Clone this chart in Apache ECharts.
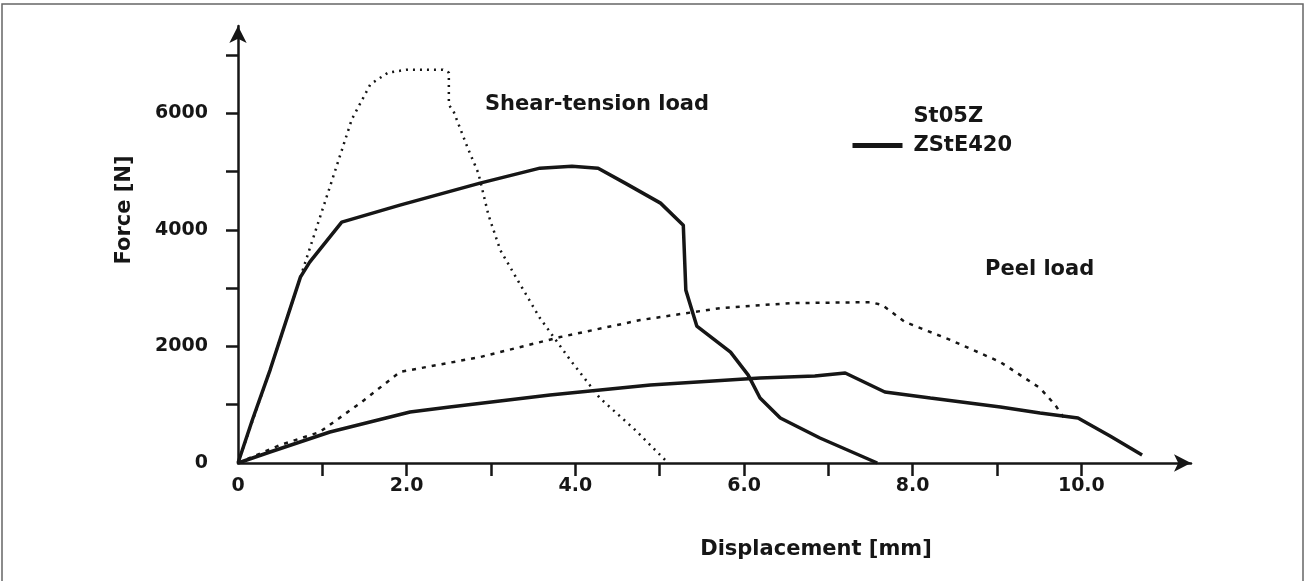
<!DOCTYPE html>
<html lang="en">
<head>
    <meta charset="UTF-8">
    <title>Force - displacement</title>
    <style>
        html, body { margin: 0; padding: 0; background: #fff; }
        #main { width: 1306px; height: 581px; }
    </style>
</head>
<body>
<div id="main"></div>
<script src="https://cdn.jsdelivr.net/npm/echarts@6/dist/echarts.min.js"></script>
<script type="text/javascript">
    // values (displacement in mm, force in N)
    var stShearX = [0, 0.38, 0.74, 1.10, 1.35, 1.57, 1.78, 2.00, 2.43, 2.50, 2.50, 2.56, 2.72, 2.85, 2.97, 3.11, 3.35, 3.58, 3.94, 4.29, 4.71, 5.10];
    var stShearY = [0, 1595, 3190, 4785, 5900, 6500, 6700, 6750, 6750, 6700, 6150, 6020, 5420, 4975, 4254, 3654, 3053, 2487, 1767, 1115, 566, 0];

    var zsShearX = [0, 0.17, 0.38, 0.74, 0.85, 1.23, 1.92, 2.87, 3.58, 3.96, 4.27, 4.59, 5.01, 5.28, 5.31, 5.44, 5.84, 6.05, 6.19, 6.43, 6.90, 7.58];
    var zsShearY = [0, 738, 1595, 3190, 3448, 4134, 4425, 4803, 5060, 5094, 5060, 4803, 4460, 4082, 2967, 2350, 1904, 1509, 1115, 772, 429, 0];

    var stPeelX = [0, 0.50, 0.97, 1.45, 1.92, 2.04, 2.87, 3.82, 4.77, 5.72, 6.55, 7.50, 7.64, 7.91, 8.45, 9.04, 9.51, 9.69, 9.81];
    var stPeelY = [0, 309, 532, 1029, 1561, 1595, 1818, 2161, 2453, 2659, 2744, 2761, 2710, 2419, 2110, 1732, 1286, 995, 738];

    var zsPeelX = [0, 0.38, 1.09, 2.04, 2.51, 3.70, 4.89, 6.19, 6.84, 7.20, 7.67, 8.21, 9.04, 9.51, 9.96, 10.34, 10.72];
    var zsPeelY = [0, 189, 532, 875, 961, 1166, 1338, 1458, 1492, 1544, 1218, 1115, 961, 858, 772, 463, 137];

    var xTicks = [1, 2, 3, 4, 5, 6, 7, 8, 9, 10];
    var xLabels = [0, 2, 4, 6, 8, 10];
    var yTicks = [1000, 2000, 3000, 4000, 5000, 6000, 7000];
    var yLabels = [0, 2000, 4000, 6000];

    function zip(xs, ys) {
        var out = [];
        for (var i = 0; i < xs.length; i++) {
            out.push([xs[i], ys[i]]);
        }
        return out;
    }

    var ink = "#161616";
    var font = "DejaVu Sans";

    var myChart = echarts.init(document.getElementById("main"));

    var option = {
        backgroundColor: "#fff",
        animation: false,
        grid: {
            left: 238,
            right: 115,
            top: 26,
            bottom: 118
        },
        legend: {
            left: 845,
            top: 101,
            orient: "vertical",
            itemWidth: 50,
            itemHeight: 14,
            itemGap: 8,
            itemStyle: { opacity: 0 },
            lineStyle: { width: 5 },
            data: [
                { name: "St05Z", icon: "none" },
                { name: "ZStE420" }
            ],
            textStyle: {
                color: ink,
                fontFamily: font,
                fontWeight: "bold",
                fontSize: 21,
                padding: [0, 0, 0, 6]
            }
        },
        xAxis: {
            type: "value",
            min: 0,
            max: 11.3,
            interval: 1,
            splitLine: { show: false },
            axisLine: {
                symbol: ["none", "arrow"],
                symbolSize: [13, 17],
                lineStyle: { color: ink, width: 2.5 }
            },
            axisTick: {
                length: 13,
                customValues: xTicks,
                lineStyle: { color: ink, width: 2.5 }
            },
            axisLabel: {
                customValues: xLabels,
                margin: 14,
                color: ink,
                fontFamily: font,
                fontWeight: "bold",
                fontSize: 19,
                formatter: function (v) {
                    return v === 0 ? "0" : v.toFixed(1);
                }
            }
        },
        yAxis: {
            type: "value",
            min: 0,
            max: 7500,
            interval: 1000,
            splitLine: { show: false },
            axisLine: {
                show: true,
                symbol: ["none", "arrow"],
                symbolSize: [13, 17],
                lineStyle: { color: ink, width: 2.5 }
            },
            axisTick: {
                show: true,
                length: 12,
                customValues: yTicks,
                lineStyle: { color: ink, width: 2.5 }
            },
            axisLabel: {
                customValues: yLabels,
                margin: 30,
                color: ink,
                fontFamily: font,
                fontWeight: "bold",
                fontSize: 19,
                formatter: function (v) {
                    return String(v);
                }
            }
        },
        graphic: [
            {
                type: "rect",
                silent: true,
                shape: { x: 2, y: 4, width: 1301, height: 600 },
                style: { fill: "none", stroke: "#666", lineWidth: 1.5 }
            },
            {
                type: "text",
                x: 816,
                y: 550,
                style: {
                    text: "Displacement [mm]",
                    fill: ink,
                    align: "center",
                    verticalAlign: "middle",
                    font: "bold 21px 'DejaVu Sans'"
                }
            },
            {
                type: "text",
                x: 125,
                y: 210,
                rotation: Math.PI / 2,
                style: {
                    text: "Force [N]",
                    fill: ink,
                    align: "center",
                    verticalAlign: "middle",
                    font: "bold 21px 'DejaVu Sans'"
                }
            },
            {
                type: "text",
                x: 485,
                y: 105,
                style: {
                    text: "Shear-tension load",
                    fill: ink,
                    verticalAlign: "middle",
                    font: "bold 21px 'DejaVu Sans'"
                }
            },
            {
                type: "text",
                x: 985,
                y: 270,
                style: {
                    text: "Peel load",
                    fill: ink,
                    verticalAlign: "middle",
                    font: "bold 21px 'DejaVu Sans'"
                }
            }
        ],
        series: [
            {
                name: "St05Z",
                type: "line",
                symbol: "none",
                data: zip(stShearX, stShearY),
                lineStyle: { color: ink, width: 2.5, type: [2, 5] },
                itemStyle: { color: ink }
            },
            {
                name: "ZStE420",
                type: "line",
                symbol: "none",
                data: zip(zsShearX, zsShearY),
                lineStyle: { color: ink, width: 3.5 },
                itemStyle: { color: ink }
            },
            {
                name: "St05Z",
                type: "line",
                symbol: "none",
                data: zip(stPeelX, stPeelY),
                lineStyle: { color: ink, width: 2.5, type: [4, 6] },
                itemStyle: { color: ink }
            },
            {
                name: "ZStE420",
                type: "line",
                symbol: "none",
                data: zip(zsPeelX, zsPeelY),
                lineStyle: { color: ink, width: 3.5 },
                itemStyle: { color: ink }
            }
        ]
    };

    myChart.setOption(option);
</script>
</body>
</html>
